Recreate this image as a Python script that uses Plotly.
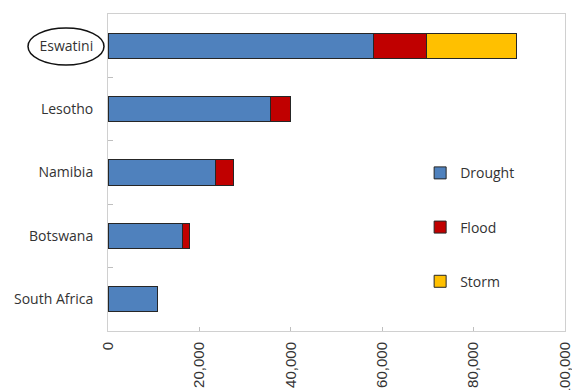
import plotly.graph_objects as go

# Affected people by hazard type (stacked)
countries = ["Eswatini", "Lesotho", "Namibia", "Botswana", "South Africa"]
drought = [58200, 35500, 23500, 16400, 10900]
flood = [11400, 4400, 4000, 1500, 0]
storm = [19800, 0, 0, 0, 0]

hazards = [
    ("Drought", drought, "#4F81BD"),
    ("Flood", flood, "#C00000"),
    ("Storm", storm, "#FFC000"),
]

x_ticks = [0, 20000, 40000, 60000, 80000, 100000]

fig = go.Figure()
for name, vals, color in hazards:
    fig.add_trace(go.Bar(
        y=countries,
        x=vals,
        name=name,
        orientation="h",
        marker=dict(color=color, line=dict(color="#262626", width=1)),
        legendgroup=name,
    ))

W, H = 572, 390
ml, mr, mt, mb = 108, 7, 14, 59
pw, ph = W - ml - mr, H - mt - mb

fig.update_layout(
    width=W,
    height=H,
    margin=dict(l=ml, r=mr, t=mt, b=mb, pad=0, autoexpand=False),
    barmode="stack",
    bargap=0.6,
    plot_bgcolor="white",
    paper_bgcolor="white",
    font=dict(family="Open Sans", size=14, color="#333333"),
    showlegend=True,
    legend=dict(
        x=0.683,
        xanchor="left",
        y=0.548,
        yanchor="top",
        traceorder="grouped",
        tracegroupgap=33,
        font=dict(size=14, color="#333333"),
        bgcolor="rgba(0,0,0,0)",
    ),
)

fig.update_xaxes(
    range=[0, 100000],
    tickvals=x_ticks,
    tickformat=",",
    tickangle=-90,
    ticks="inside",
    ticklen=4,
    tickcolor="#BFBFBF",
    showgrid=False,
    zeroline=False,
    showline=True,
    linecolor="#D0D0D0",
    linewidth=1,
    mirror=True,
    automargin=False,
    ticklabeloverflow="allow",
    ticklabelstandoff=4,
    tickfont=dict(family="Liberation Sans", size=15, color="#333333"),
)

fig.update_yaxes(
    categoryorder="array",
    categoryarray=countries[::-1],
    ticks="inside",
    tickson="boundaries",
    ticklen=5,
    tickcolor="#BFBFBF",
    showgrid=False,
    showline=True,
    linecolor="#D0D0D0",
    linewidth=1,
    mirror=True,
    automargin=False,
    ticklabelstandoff=11,
    tickfont=dict(family="Open Sans", size=14, color="#333333"),
)

# Highlight ring around the Eswatini label
def px_to_paper_x(px):
    return (px - ml) / pw

def py_to_paper_y(py):
    return (H - mb - py) / ph

fig.add_shape(
    type="circle",
    xref="paper", yref="paper",
    x0=px_to_paper_x(28), x1=px_to_paper_x(104),
    y0=py_to_paper_y(65), y1=py_to_paper_y(28),
    line=dict(color="#111111", width=1.5),
    fillcolor="rgba(0,0,0,0)",
)

fig.write_html("out.html")
